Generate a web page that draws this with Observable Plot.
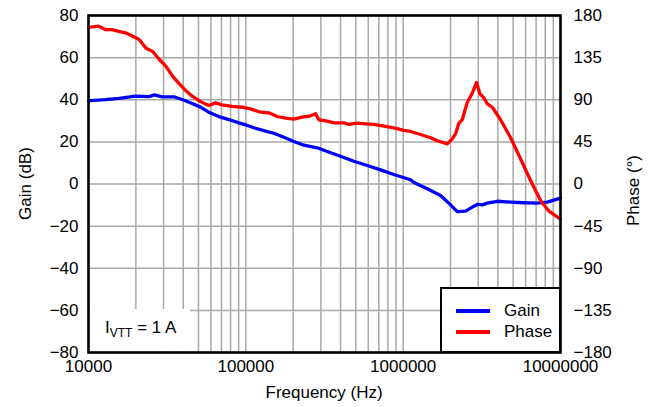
<!DOCTYPE html>
<html><head><meta charset="utf-8">
<script src="https://cdn.jsdelivr.net/npm/d3@7"></script>
<script src="https://cdn.jsdelivr.net/npm/@observablehq/plot@0.6"></script>
<style>
body{margin:0;background:#fff;font-family:Arial,"Liberation Sans",sans-serif;}
#wrap{position:relative;width:657px;height:407px;overflow:hidden;}
.t{position:absolute;font-size:17px;color:#000;white-space:nowrap;line-height:1;}
.legend{position:absolute;left:440px;top:287px;width:121px;height:66px;background:#fff;border:2px solid #000;box-sizing:border-box;}
.sw{position:absolute;left:14px;width:34px;height:3.5px;}
.lt{position:absolute;left:62px;font-size:17px;line-height:1;}
.note{position:absolute;left:90px;top:309px;width:100px;height:42px;background:#fff;}
</style>
</head><body>
<div id="wrap"></div>
<script>
const gainTicks = [-80, -60, -40, -20, 0, 20, 40, 60, 80];
const phaseTicks = [-180, -135, -90, -45, 0, 45, 90, 135, 180];
const freqTicks = [10000, 100000, 1000000, 10000000];

const gainFreq = [1e4, 1.03e4, 1.28e4, 1.56e4, 1.99e4, 2.42e4, 2.63e4, 2.94e4, 3.49e4, 3.94e4, 4.56e4, 5.15e4, 5.81e4, 6.74e4, 7.8e4, 9.03e4, 9.95e4, 1.124e5, 1.368e5, 1.507e5, 1.744e5, 2.02e5, 2.338e5, 2.844e5, 3.292e5, 4.0e5, 4.86e5, 5.91e5, 7.18e5, 8.73e5, 1.114e6, 1.17e6, 1.423e6, 1.729e6, 1.952e6, 2.207e6, 2.493e6, 2.75e6, 2.958e6, 3.184e6, 3.424e6, 3.965e6, 4.82e6, 5.85e6, 7.11e6, 8.24e6, 1e7];
const gainDb = [39.5, 39.6, 40.1, 40.7, 41.7, 41.5, 42.3, 41.4, 41.4, 40.1, 38.2, 36.5, 34.1, 32, 30.6, 29, 28.1, 26.7, 24.9, 24.1, 22.2, 20.2, 18.4, 17.2, 15.4, 13.2, 10.8, 8.8, 6.7, 4.5, 2, 0.7, -2.3, -5.5, -9.1, -13.1, -12.9, -11, -9.7, -9.9, -9.1, -8.2, -8.6, -8.9, -9.1, -8.6, -6.7];

const phaseFreq = [1e4, 1.03e4, 1.16e4, 1.28e4, 1.41e4, 1.56e4, 1.72e4, 1.9e4, 2.1e4, 2.32e4, 2.56e4, 2.82e4, 3.1e4, 3.43e4, 3.78e4, 4.14e4, 4.57e4, 5.15e4, 5.81e4, 6.41e4, 7.05e4, 8.18e4, 9.5e4, 1.071e5, 1.24e5, 1.4e5, 1.584e5, 1.788e5, 2.02e5, 2.284e5, 2.578e5, 2.774e5, 2.911e5, 3.292e5, 3.626e5, 4.2e5, 4.516e5, 5.11e5, 5.77e5, 6.51e5, 7.54e5, 8.73e5, 1.01e6, 1.114e6, 1.29e6, 1.494e6, 1.648e6, 1.906e6, 2.05e6, 2.153e6, 2.26e6, 2.375e6, 2.556e6, 2.75e6, 2.928e6, 3.073e6, 3.26e6, 3.424e6, 3.685e6, 4.16e6, 4.82e6, 5.57e6, 6.45e6, 7.47e6, 8.44e6, 1e7];
const phaseDeg = [167, 167.5, 168.6, 165, 165, 163, 161.5, 158, 154.4, 145, 141.6, 133, 126, 115, 107, 100, 93.8, 88, 83.9, 86.7, 84.6, 83, 82, 80.3, 76.7, 76, 72.1, 70.3, 69.2, 71.4, 72.9, 75, 68.6, 67.1, 65.4, 65.4, 63.6, 65, 64.3, 63.6, 61.8, 60, 57.2, 56.1, 52.9, 49.4, 46.2, 42.9, 48.3, 53.6, 65, 68.6, 87.4, 97, 108.5, 96.4, 92, 85.7, 82, 68.6, 49.4, 26.9, 3.7, -17.6, -29, -37.5];

const seriesNames = ["Gain", "Phase"];
const seriesColors = ["#0000ff", "#ff0000"];

const gainData = gainFreq.map((f, i) => ({f, v: gainDb[i]}));
const phaseData = phaseFreq.map((f, i) => ({f, v: phaseDeg[i]}));

const gridFreq = [];
for (let e = 4; e < 7; e++) for (let m = 1; m <= 9; m++) gridFreq.push(m * 10 ** e);
gridFreq.push(1e7);

const minus = v => v < 0 ? "\u2212" + (-v) : String(v);

const chart = Plot.plot({
  width: 657, height: 407,
  marginLeft: 88, marginRight: 97, marginTop: 15, marginBottom: 55,
  style: {fontFamily: "Arial, 'Liberation Sans', sans-serif", fontSize: "17px", color: "#000", background: "#fff"},
  x: {type: "log", domain: [1e4, 1e7]},
  y: {domain: [-80, 80]},
  marks: [
    Plot.gridX(gridFreq, {stroke: "#a8a8a8", strokeOpacity: 1, strokeWidth: 1.5}),
    Plot.gridY(gainTicks, {stroke: "#a8a8a8", strokeOpacity: 1, strokeWidth: 1.5}),
    Plot.line(gainData, {x: "f", y: "v", stroke: seriesColors[0], strokeWidth: 3.3}),
    Plot.line(phaseData, {x: "f", y: d => d.v * 80 / 180, stroke: seriesColors[1], strokeWidth: 3.3}),
    Plot.frame({stroke: "#000", strokeWidth: 2.6}),
    Plot.axisX({ticks: freqTicks, tickFormat: d => String(d), tickSize: 0, tickPadding: 7, label: null}),
    Plot.axisY({anchor: "left", ticks: gainTicks, tickFormat: minus, tickSize: 0, tickPadding: 10, label: null}),
    Plot.axisY({anchor: "right", ticks: gainTicks, tickFormat: d => minus(phaseTicks[gainTicks.indexOf(d)]), tickSize: 0, tickPadding: 13, label: null})
  ]
});

const wrap = document.getElementById("wrap");
wrap.appendChild(chart);

function addText(html, x, y, rot) {
  const el = document.createElement("div");
  el.className = "t";
  el.innerHTML = html;
  wrap.appendChild(el);
  const w = el.offsetWidth, h = el.offsetHeight;
  el.style.left = (x - w / 2) + "px";
  el.style.top = (y - h / 2) + "px";
  if (rot) el.style.transform = "rotate(-90deg)";
}
addText("Frequency (Hz)", 324, 392);
addText("Gain (dB)", 25, 183, true);
addText("Phase (°)", 633, 190, true);

const note = document.createElement("div");
note.className = "note";
note.innerHTML = '<span style="position:absolute;left:15px;top:10px;font-size:17px;line-height:1;white-space:nowrap">I<sub style="font-size:12px;vertical-align:-4px">VTT</sub> = 1 A</span>';
wrap.appendChild(note);

const lg = document.createElement("div");
lg.className = "legend";
seriesNames.forEach((n, i) => {
  const top = i === 0 ? 20 : 41;
  lg.insertAdjacentHTML("beforeend",
    `<div class="sw" style="top:${top}px;background:${seriesColors[i]}"></div><div class="lt" style="top:${top - 7}px">${n}</div>`);
});
wrap.appendChild(lg);
</script>
</body></html>
